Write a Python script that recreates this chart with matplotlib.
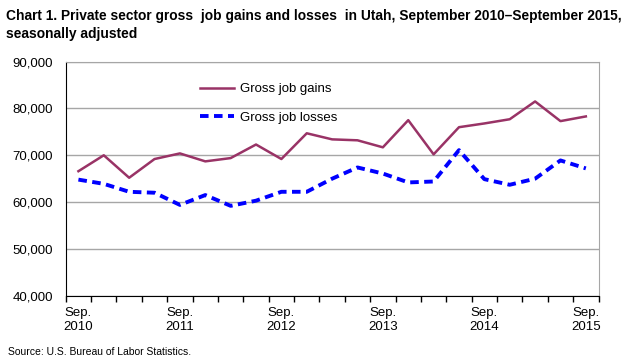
import numpy as np
import matplotlib.pyplot as plt
from matplotlib.ticker import FixedLocator, FuncFormatter

# quarterly values, Sep 2010 .. Sep 2015
gains = [66600, 70000, 65200, 69200, 70400, 68700, 69400, 72300, 69200, 74700,
         73400, 73200, 71700, 77500, 70200, 76000, 76800, 77700, 81500, 77300, 78300]
losses = [64800, 63900, 62200, 62000, 59400, 61500, 59200, 60300, 62200, 62200,
          65000, 67400, 66100, 64200, 64400, 71100, 64900, 63700, 65000, 68900, 67200]
label_pos = [0, 4, 8, 12, 16, 20]
label_txt = ['Sep.\n2010', 'Sep.\n2011', 'Sep.\n2012', 'Sep.\n2013', 'Sep.\n2014', 'Sep.\n2015']

plt.rcParams['font.family'] = ['Liberation Sans', 'DejaVu Sans']

fig = plt.figure(figsize=(6.4, 3.64), dpi=100)
ax = fig.add_axes([0.1027, 0.1876, 0.8325, 0.643])

x = np.arange(len(gains))
ax.plot(x, gains, color='#993366', lw=1.8, label='Gross job gains')
ax.plot(x, losses, color='#0000ff', lw=2.8, ls=(0, (2.2, 1.4)), label='Gross job losses')

ax.set_xlim(-0.5, len(gains) - 0.5)
ax.set_ylim(40000, 90000)
ax.set_yticks(np.arange(40000, 90001, 10000))
ax.yaxis.set_major_formatter(FuncFormatter(lambda v, p: f'{int(v):,}'))
ax.tick_params(axis='y', length=0, labelsize=9.5, pad=9)
ax.yaxis.grid(True, color='#a6a6a6', lw=1)
ax.set_axisbelow(True)

ax.xaxis.set_major_locator(FixedLocator(np.arange(-0.5, len(gains), 1)))
ax.xaxis.set_major_formatter(FuncFormatter(lambda v, p: ''))
ax.xaxis.set_minor_locator(FixedLocator(label_pos))
ax.set_xticklabels(label_txt, minor=True)
ax.tick_params(axis='x', which='major', length=4, width=1, color='black', direction='out')
ax.tick_params(axis='x', which='minor', length=0, labelsize=9.5, pad=8)

for s in ['top', 'right']:
    ax.spines[s].set_color('#a6a6a6')
for s in ['left', 'bottom']:
    ax.spines[s].set_color('black')

ax.legend(loc='upper left', bbox_to_anchor=(0.23, 0.96), frameon=False, fontsize=9.5,
          handlelength=2.6, handletextpad=0.4, labelspacing=1.25)

fig.text(0.01, 0.975, 'Chart 1. Private sector gross  job gains and losses  in Utah, September 2010\u2013September 2015,\nseasonally adjusted',
         ha='left', va='top', fontsize=9.9, fontweight='bold', family=['Liberation Sans Narrow', 'Liberation Sans'], linespacing=1.35)
fig.text(0.012, 0.018, 'Source: U.S. Bureau of Labor Statistics.', ha='left', va='bottom', fontsize=7.5,
         family=['Liberation Sans Narrow', 'Liberation Sans'])

fig.savefig('out.png', dpi=100)
